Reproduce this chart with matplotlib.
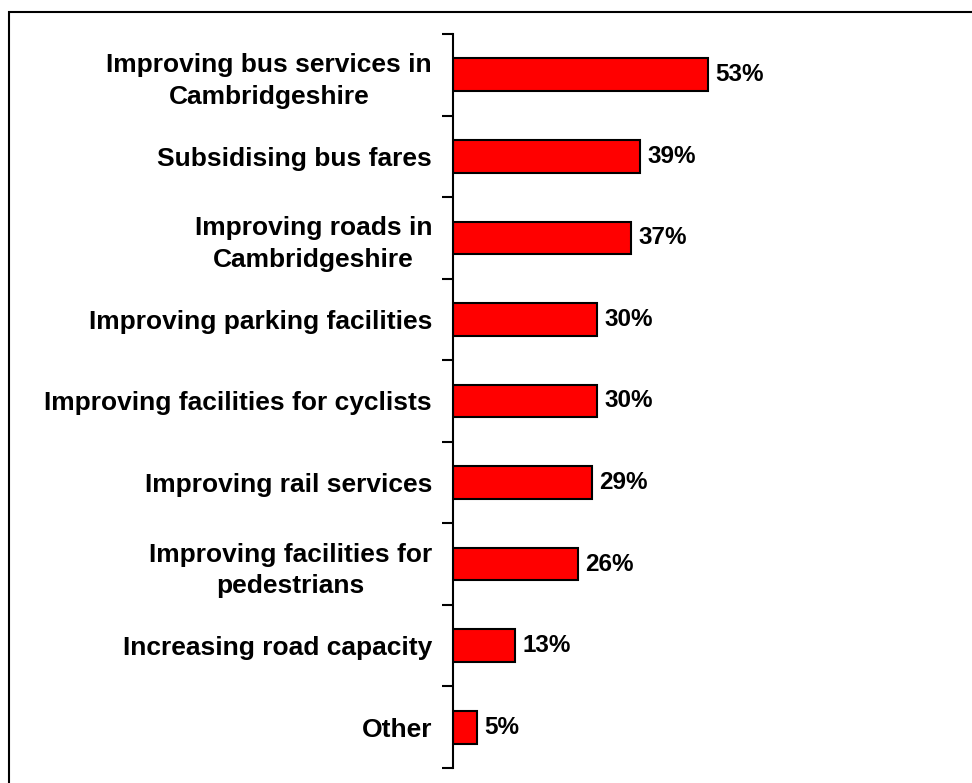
import matplotlib
matplotlib.use('Agg')
import matplotlib.pyplot as plt
from matplotlib.patches import Rectangle
import numpy as np

categories = ['Improving bus services in\nCambridgeshire', 'Subsidising bus fares',
              'Improving roads in\nCambridgeshire', 'Improving parking facilities',
              'Improving facilities for cyclists', 'Improving rail services',
              'Improving facilities for\npedestrians', 'Increasing road capacity', 'Other']
values = [53, 39, 37, 30, 30, 29, 26, 13, 5]

plt.rcParams['font.family'] = ['Liberation Sans', 'DejaVu Sans']

fig = plt.figure(figsize=(9.72, 7.83), dpi=100)
ax = fig.add_axes([0.466, 0.0192, 0.46, 0.9374])

y = np.arange(len(categories))
ax.barh(y, values, height=0.4, color='#ff0000', edgecolor='black', linewidth=1.5)
ax.set_ylim(len(categories) - 0.5, -0.5)
ax.set_xlim(0, 93)

for yi, v in zip(y, values):
    ax.text(v + 1.5, yi, f'{v}%', va='center', ha='left', fontsize=17.5, fontweight='bold')

ax.set_yticks(y)
ax.set_yticklabels(categories, fontsize=19, fontweight='bold', ha='right',
                   multialignment='center', linespacing=1.4)
ax.tick_params(axis='y', which='major', length=0, pad=15)
ax.set_yticks(np.arange(-0.5, len(categories)), minor=True)
ax.tick_params(axis='y', which='minor', length=8, width=1.5, direction='out')
ax.set_xticks([])
for s in ['top', 'right', 'bottom']:
    ax.spines[s].set_visible(False)
ax.spines['left'].set_linewidth(1.5)

# outer border
fig.patches.append(Rectangle((9 / 972, -0.1), 1.2, 1 - 12 / 783 + 0.1, transform=fig.transFigure,
                             fill=False, edgecolor='black', linewidth=1.5))

plt.savefig('out.png', dpi=100)
